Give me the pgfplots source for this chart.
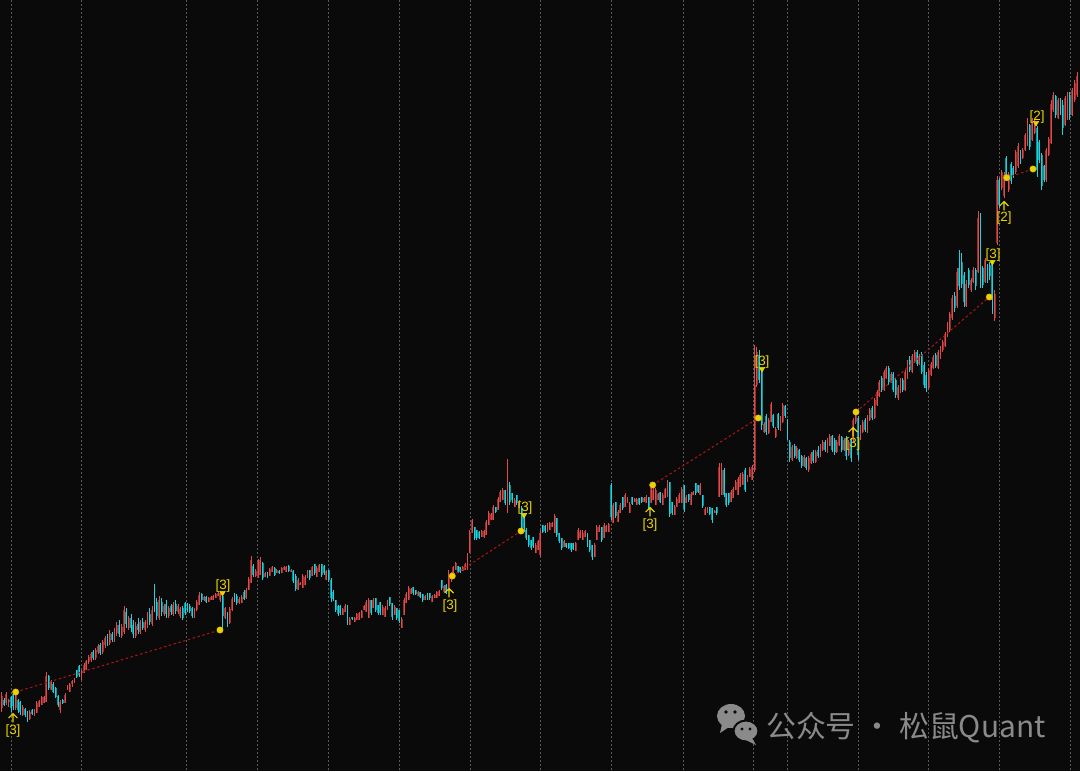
\documentclass[border=0pt]{standalone}
\usepackage{fontspec}
\setmainfont{Liberation Sans}
\newfontfamily\cjk{Noto Sans CJK SC}
\usepackage{pgfplots}
\usepackage{pgfplotstable}
\pgfplotsset{compat=1.18}
\definecolor{bg}{HTML}{0A0A0A}
\definecolor{upbody}{HTML}{962E2E}
\definecolor{upwick}{HTML}{E04A4A}
\definecolor{dnbody}{HTML}{0B939A}
\definecolor{dnwick}{HTML}{1FD3DE}
\definecolor{gridc}{HTML}{5A5A5A}
\definecolor{sig}{HTML}{E8D400}
\definecolor{dotline}{HTML}{B01515}
\definecolor{wm}{HTML}{8A8A8A}
\pgfdeclareplotmark{uparr}{%
 \pgfpathmoveto{\pgfqpoint{0pt}{-4.5pt}}\pgfpathlineto{\pgfqpoint{0pt}{4.5pt}}%
 \pgfpathmoveto{\pgfqpoint{-4.5pt}{0pt}}\pgfpathlineto{\pgfqpoint{0pt}{4.5pt}}\pgfpathlineto{\pgfqpoint{4.5pt}{0pt}}%
 \pgfusepathqstroke}
% candles: o h l c  (vertical values measured from the top of the chart)
\pgfplotstableread{
o h l c
708 692 712 696
700 698 706 705
703 692 705 694
702 699 707 700
697 696 712 708
694 691 710 706
708 689 710 692
700 699 713 710
702 701 715 712
715 705 716 707
709 708 717 715
712 711 722 719
719 710 720 712
710 709 715 714
715 709 716 710
713 701 713 703
707 700 707 701
705 696 705 697
703 696 703 697
702 672 702 676
676 675 690 688
690 680 690 681
684 682 693 692
688 687 698 697
696 695 707 705
710 700 713 702
700 699 704 703
703 693 703 695
690 685 690 686
692 683 692 684
684 680 687 681
683 678 683 679
670 670 678 677
666 665 677 675
673 670 680 671
673 663 673 665
670 660 670 661
662 655 664 657
660 652 662 654
652 650 660 658
658 648 660 650
652 644 654 646
645 643 655 653
652 640 654 642
645 636 648 638
636 634 646 644
643 630 645 633
634 632 642 640
640 628 642 630
633 622 636 625
625 620 637 634
636 624 638 627
632 606 634 610
612 608 628 624
628 616 630 618
618 614 632 628
625 620 638 634
636 622 638 626
624 618 634 630
632 620 634 622
622 618 630 628
630 620 632 622
626 612 628 615
614 608 625 622
624 606 626 610
588 584 612 608
602 598 620 616
618 596 620 600
602 598 616 612
614 604 616 606
604 600 618 614
616 606 618 608
606 604 615 612
614 602 616 605
604 600 614 611
612 604 614 606
616 607 618 609
608 606 620 618
603 602 615 613
605 603 612 610
606 604 613 611
608 607 618 616
618 608 618 610
610 600 611 602
605 592 605 595
594 593 602 600
600 596 601 597
597 596 603 602
602 597 602 598
600 596 600 597
600 595 600 596
598 593 598 594
596 592 596 593
600 591 602 593
596 593 630 616
618 607 619 608
613 612 627 625
623 607 624 609
610 597 611 599
594 593 602 601
596 594 605 603
603 597 604 599
603 595 603 597
592 590 600 599
598 588 599 590
590 577 590 579
583 556 583 560
566 564 577 575
576 569 577 571
578 559 578 562
575 557 575 560
563 562 580 578
577 572 577 573
573 572 578 577
576 568 576 569
572 566 572 567
568 567 576 575
573 569 573 570
571 570 574 573
573 567 573 568
570 566 570 567
572 566 572 567
566 565 572 571
572 569 572 570
571 570 583 581
576 574 591 589
590 578 590 580
585 582 585 583
588 574 588 576
585 575 585 577
578 570 578 571
570 570 580 578
576 566 576 567
564 564 575 573
577 566 577 568
572 564 572 565
564 564 577 575
566 565 575 573
580 570 580 571
570 570 582 580
580 578 602 598
592 590 601 599
600 600 612 610
606 605 616 614
606 605 615 613
615 608 615 609
612 604 612 606
606 605 625 622
625 617 625 619
617 617 620 619
622 617 622 618
620 613 620 614
620 612 620 613
618 610 618 611
610 605 610 606
612 600 612 602
618 598 618 600
600 600 615 613
608 598 608 600
598 598 612 610
605 605 615 613
602 602 615 613
615 605 615 607
617 606 617 608
610 600 610 602
597 597 606 604
603 603 620 617
615 605 615 607
608 608 620 618
610 610 623 621
628 617 628 619
615 598 615 600
603 592 603 594
600 586 600 588
594 588 594 589
587 587 595 593
590 590 595 594
596 591 596 592
592 592 598 597
594 594 602 600
600 595 600 596
593 593 600 599
593 593 600 598
602 595 602 596
598 594 598 595
598 591 598 592
596 590 596 591
580 580 590 588
592 585 592 586
585 584 594 592
588 570 588 574
578 572 582 575
573 566 573 567
570 562 570 563
566 566 573 572
567 567 573 572
571 566 571 567
570 563 570 564
570 553 570 555
553 530 553 532
533 519 533 520
527 527 540 538
530 530 540 538
532 531 539 538
537 530 537 531
537 530 538 531
535 520 535 522
525 511 525 513
520 513 520 514
520 505 520 507
507 507 513 512
510 497 510 499
502 490 502 492
500 488 500 490
490 490 505 503
505 459 513 497
485 482 505 502
493 493 503 500
507 498 507 500
495 495 505 503
508 500 508 501
508 506 530 528
515 513 532 528
530 528 540 538
535 535 547 545
540 540 550 548
537 537 548 546
553 543 553 545
550 540 550 541
555 530 557 533
525 525 533 532
526 525 533 531
532 523 532 524
530 522 530 523
527 522 527 523
533 514 533 516
518 518 537 535
533 533 543 541
538 538 550 548
547 540 547 541
543 543 548 547
543 543 549 548
543 543 552 550
543 543 550 549
551 542 551 543
540 528 540 530
538 530 538 532
540 530 540 533
537 530 537 531
533 533 547 545
540 540 552 550
545 545 560 557
557 543 557 545
540 525 540 527
532 525 532 527
527 527 542 540
538 523 538 525
532 525 532 526
532 523 532 524
485 483 520 517
523 503 523 505
502 502 518 516
522 510 522 512
513 503 513 505
497 497 510 508
507 493 507 495
503 497 503 498
513 502 513 504
497 497 505 504
502 498 502 499
505 498 505 499
498 498 505 504
497 497 503 502
502 497 502 498
503 495 503 497
497 497 510 508
503 485 503 488
500 486 500 490
505 488 505 490
500 493 500 494
492 492 503 502
505 493 505 495
498 488 498 489
497 480 497 482
482 482 517 514
502 502 515 513
515 505 515 507
507 497 507 499
503 493 503 495
503 487 503 489
485 485 512 509
503 495 503 497
494 494 502 500
505 492 505 494
495 491 495 492
483 483 495 493
485 485 493 492
495 483 495 485
495 495 508 506
515 507 515 509
513 507 513 508
507 507 515 514
508 508 523 520
513 510 513 511
507 507 515 513
497 463 497 467
495 463 495 470
470 468 497 495
493 493 507 505
493 493 505 503
502 490 502 492
498 487 498 489
490 480 490 482
495 477 495 479
487 473 487 475
485 472 485 474
470 468 492 490
482 475 482 476
477 467 477 469
480 465 480 467
470 345 472 385
385 347 387 352
355 350 383 380
372 369 430 425
432 422 433 424
416 414 435 432
433 418 434 420
422 402 422 404
415 414 428 426
437 427 438 429
414 413 430 428
430 416 431 418
422 403 423 405
406 405 418 416
420 419 440 438
442 440 462 458
460 445 461 447
446 444 458 456
458 446 459 448
450 449 462 460
456 455 468 466
466 455 467 457
458 457 470 468
470 456 472 458
463 452 464 454
452 450 463 461
462 450 463 452
450 446 458 456
456 444 457 446
450 440 451 442
442 440 452 450
452 438 453 440
446 434 446 436
436 435 452 450
440 438 455 452
452 440 453 442
445 434 446 436
437 436 452 450
450 438 451 440
438 436 460 456
455 440 456 442
440 438 462 458
440 418 442 420
422 410 424 412
418 416 460 455
438 425 440 427
432 420 433 422
420 418 432 430
432 415 433 417
420 408 421 410
408 406 420 418
418 398 419 400
405 390 406 392
396 380 397 382
378 376 392 390
390 370 391 372
378 366 379 368
368 366 385 382
382 372 383 374
374 372 392 390
380 378 398 395
398 385 400 387
392 378 393 380
380 378 392 390
390 370 391 372
378 360 379 362
360 356 372 370
372 354 373 356
362 350 363 352
352 350 366 364
364 354 365 356
354 352 374 372
365 362 388 385
375 372 392 388
388 368 390 370
375 362 376 364
368 355 369 357
355 353 368 366
368 350 369 352
358 346 359 348
350 340 352 342
346 332 347 334
336 322 337 324
330 312 332 314
318 295 320 298
296 292 312 308
306 268 308 272
268 250 290 286
262 253 288 284
275 272 307 302
306 280 307 284
270 268 288 285
290 278 292 280
282 267 283 270
270 268 290 286
272 211 273 218
216 213 288 282
268 266 288 285
282 258 283 260
266 264 283 280
265 262 280 276
262 260 314 300
318 290 321 294
243 176 245 180
180 178 208 205
188 170 190 172
196 172 198 175
158 156 180 178
190 172 192 174
164 162 184 181
168 166 178 175
172 150 174 152
166 143 168 146
152 150 164 162
158 148 159 150
150 133 151 135
145 118 146 122
125 124 150 147
140 118 141 120
133 120 134 122
128 126 177 170
142 140 163 160
155 153 190 186
166 165 182 180
180 148 182 150
155 137 156 139
143 100 144 104
110 92 112 95
96 95 118 115
118 98 119 100
100 98 115 112
105 100 135 128
125 96 126 98
118 92 120 95
95 92 120 115
115 88 116 90
100 80 102 83
95 72 97 76
}\candles
\begin{document}
\begin{tikzpicture}
\begin{axis}[name=ax, at={(0,0)}, anchor=south west,
  width=1080bp, height=771bp, scale only axis,
  xmin=0, xmax=1080, ymin=0, ymax=771, y dir=reverse,
  axis line style={draw=none},
  axis background/.style={fill=bg},
  xtick={11,81.6,186.7,257.4,328.8,399,470,540.5,611,683,753,787,858,928.8,999,1070},
  xticklabels={}, ytick=\empty, major tick length=0pt,
  tick style={draw=none},
  xmajorgrids, grid style={gridc, line width=0.9bp, dash pattern=on 2bp off 2bp},
  clip=true]
% bodies
\addplot[quiver={u=0, v=\thisrow{c}-\thisrow{o}}, -, upbody, line width=1.9bp, mark=none,
  restrict expr to domain={\thisrow{o}-\thisrow{c}}{0.001:1000}]
  table[x expr=1.6+2.353*\coordindex, y=o] {\candles};
\addplot[quiver={u=0, v=\thisrow{c}-\thisrow{o}}, -, dnbody, line width=1.9bp, mark=none,
  restrict expr to domain={\thisrow{c}-\thisrow{o}}{0.001:1000}]
  table[x expr=1.6+2.353*\coordindex, y=o] {\candles};
% wicks
\addplot[quiver={u=0, v=\thisrow{l}-\thisrow{h}}, -, upwick, line width=0.85bp, mark=none,
  restrict expr to domain={\thisrow{o}-\thisrow{c}}{0.001:1000}]
  table[x expr=1.6+2.353*\coordindex, y=h] {\candles};
\addplot[quiver={u=0, v=\thisrow{l}-\thisrow{h}}, -, dnwick, line width=0.85bp, mark=none,
  restrict expr to domain={\thisrow{c}-\thisrow{o}}{0.001:1000}]
  table[x expr=1.6+2.353*\coordindex, y=h] {\candles};
% dotted signal lines
\addplot[dotline, line width=1bp, dash pattern=on 2.5bp off 2.5bp, mark=none] coordinates {(15.7,692) (220,630)};
\addplot[dotline, line width=1bp, dash pattern=on 2.5bp off 2.5bp, mark=none] coordinates {(452.3,576) (521,531)};
\addplot[dotline, line width=1bp, dash pattern=on 2.5bp off 2.5bp, mark=none] coordinates {(652.7,485) (758.3,418)};
\addplot[dotline, line width=1bp, dash pattern=on 2.5bp off 2.5bp, mark=none] coordinates {(856,412) (989.3,297)};
\addplot[dotline, line width=1bp, dash pattern=on 2.5bp off 2.5bp, mark=none] coordinates {(1006.7,177.7) (1033,169)};
% dots
\addplot[only marks, mark=*, mark size=3.1bp, mark options={fill=sig, draw=sig!70!orange, line width=0.6bp}]
  coordinates {(15.7,692) (220,630) (452.3,576) (521,531) (652.7,485) (758.3,418) (856,412) (989.3,297) (1006.7,177.7) (1033,169)};
% up arrows
\addplot[only marks, mark=uparr, mark options={sig, line width=1.1bp}]
  coordinates {(13,718) (449,593) (650,512) (853,432) (1004,206)};
% down triangles
\addplot[only marks, mark=triangle*, mark size=3.2bp, mark options={fill=sig, draw=sig, rotate=180}]
  coordinates {(222.5,593) (524,515) (762,369) (992.3,262) (1036,123)};
% labels
\begin{scope}[every node/.style={text=sig, font=\fontsize{13.5}{14}\selectfont, inner sep=0pt}]
\node at (axis cs:13,731) {[3]};
\node at (axis cs:450,606) {[3]};
\node at (axis cs:650,525) {[3]};
\node at (axis cs:853,444) {[3]};
\node at (axis cs:1004,218) {[2]};
\node at (axis cs:223,586) {[3]};
\node at (axis cs:525,508) {[3]};
\node at (axis cs:762,362) {[3]};
\node at (axis cs:993,255) {[3]};
\node at (axis cs:1037,117) {[2]};
\end{scope}
% watermark
\fill[wm] (axis cs:731,716) ellipse [x radius=14bp, y radius=12bp];
\fill[wm] (axis cs:722,724) -- (axis cs:720,733) -- (axis cs:729,727) -- cycle;
\fill[wm, draw=bg, line width=2bp] (axis cs:746,731) ellipse [x radius=12.5bp, y radius=10.5bp];
\fill[wm] (axis cs:752,738) -- (axis cs:756,745) -- (axis cs:746,740) -- cycle;
\fill[bg] (axis cs:726,712) circle [radius=1.8bp];
\fill[bg] (axis cs:735,712) circle [radius=1.8bp];
\fill[bg] (axis cs:742,729) circle [radius=1.6bp];
\fill[bg] (axis cs:750,729) circle [radius=1.6bp];
\node[anchor=west, text=wm, font=\cjk\fontsize{30}{30}\selectfont, inner sep=0pt] at (axis cs:766,728) {公众号 · 松鼠Quant};
\end{axis}
\pgfresetboundingbox
\path (ax.south west) rectangle (ax.north east);
\end{tikzpicture}
\end{document}
